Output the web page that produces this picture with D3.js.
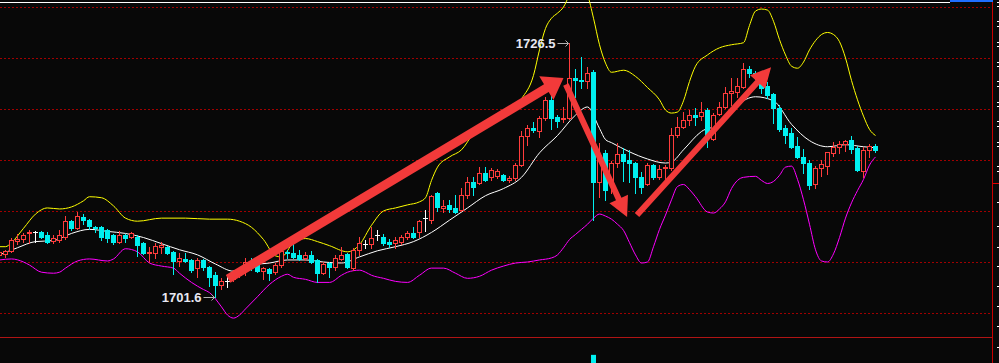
<!DOCTYPE html>
<html>
<head>
<meta charset="utf-8">
<script src="https://cdn.jsdelivr.net/npm/d3@7"></script>
<style>
  html, body { margin: 0; padding: 0; background: #080808; overflow: hidden; }
  svg { display: block; }
</style>
</head>
<body>
<div id="chart"></div>
<script>
// one bar per candle, left to right (price units)
const opens = [1705.7,1705.8,1706.1,1707.1,1707.3,1707.8,1707.9,1707.9,1707.6,1707.1,1707.2,1707.5,1709.0,1708.3,1709.4,1709.1,1708.4,1708.4,1708.1,1707.6,
  1707.0,1707.6,1707.5,1707.5,1706.9,1705.9,1705.9,1706.5,1706.5,1706.0,1705.1,1705.3,1705.2,1704.4,1705.2,1704.5,1703.7,1702.7,1703.1,1703.3,
  1703.7,1704.2,1705.1,1704.8,1704.1,1704.3,1704.0,1704.7,1706.0,1705.9,1705.7,1705.4,1705.7,1705.2,1703.9,1704.9,1704.5,1705.3,1705.8,1704.4,
  1706.2,1706.8,1706.8,1707.6,1707.5,1707.0,1706.9,1707.0,1707.5,1707.8,1707.9,1709.3,1709.1,1711.8,1710.3,1710.6,1710.3,1710.1,1711.6,1712.8,
  1712.7,1713.7,1713.3,1713.4,1713.5,1713.0,1713.2,1714.5,1717.4,1718.1,1717.8,1719.1,1720.9,1719.2,1719.0,1719.1,1723.0,1722.8,1722.7,1723.6,
  1712.8,1715.7,1712.8,1714.7,1715.6,1715.0,1714.7,1713.3,1712.6,1714.5,1713.3,1714.2,1714.2,1717.5,1718.2,1718.9,1719.4,1719.3,1719.9,1717.1,
  1719.5,1720.2,1721.6,1721.7,1722.2,1723.9,1723.5,1722.9,1722.3,1721.5,1720.1,1718.1,1717.6,1716.4,1715.3,1714.7,1712.6,1714.2,1714.4,1715.7,
  1716.3,1716.6,1717.0,1716.2,1713.9,1716.0,1716.4];
const highs = [1706.2,1706.2,1707.4,1707.7,1707.8,1708.1,1708.0,1708.0,1707.9,1707.6,1708.1,1709.5,1709.1,1709.9,1709.7,1709.2,1708.5,1708.5,1708.2,1707.7,
  1708.0,1707.7,1707.9,1707.6,1707.0,1706.5,1706.9,1707.0,1706.6,1706.1,1705.9,1705.9,1705.3,1705.4,1705.3,1704.6,1704.0,1703.4,1703.5,1704.2,
  1704.5,1705.4,1705.4,1704.9,1704.5,1704.4,1704.9,1706.2,1706.2,1707.0,1706.2,1706.0,1706.1,1705.3,1705.0,1705.0,1705.7,1706.5,1705.9,1706.4,
  1707.5,1707.2,1708.4,1708.1,1707.7,1707.3,1707.5,1707.6,1708.0,1708.4,1709.1,1710.1,1711.6,1711.9,1711.1,1711.1,1711.6,1712.3,1713.3,1713.3,
  1714.3,1714.3,1714.2,1714.1,1713.6,1713.4,1714.7,1717.8,1718.4,1718.7,1719.3,1721.2,1721.6,1719.4,1720.2,1726.5,1723.9,1725.1,1724.1,1723.8,
  1716.7,1716.0,1714.9,1716.7,1716.2,1716.0,1714.8,1713.8,1714.7,1714.6,1714.5,1714.5,1718.1,1719.2,1719.7,1719.9,1720.1,1720.7,1720.1,1719.6,
  1720.7,1722.2,1723.0,1723.0,1724.5,1724.2,1723.7,1723.1,1722.6,1721.6,1720.4,1718.4,1718.1,1717.3,1716.1,1715.0,1714.4,1715.0,1715.8,1716.8,
  1716.9,1717.0,1717.4,1716.4,1716.3,1716.6,1716.6];
const lows = [1705.5,1705.5,1706.0,1706.8,1707.0,1706.9,1707.0,1707.4,1706.9,1706.9,1707.0,1707.3,1708.1,1708.2,1708.7,1708.2,1707.9,1707.2,1707.0,1706.8,
  1706.9,1707.0,1707.4,1705.6,1705.8,1705.0,1705.4,1705.9,1705.8,1703.8,1704.6,1705.0,1704.0,1703.5,1704.2,1702.6,1701.6,1702.4,1702.5,1703.1,
  1703.5,1703.7,1704.2,1704.0,1703.3,1703.2,1703.8,1704.5,1705.4,1705.4,1705.2,1705.2,1704.9,1703.0,1703.8,1703.5,1704.2,1705.2,1704.4,1704.2,
  1705.7,1706.4,1706.4,1707.2,1706.7,1706.5,1706.4,1706.8,1707.3,1707.4,1707.5,1708.0,1708.8,1710.0,1709.9,1709.9,1709.8,1710.0,1711.3,1711.6,
  1712.6,1712.9,1713.0,1713.2,1712.9,1712.8,1713.0,1714.4,1716.5,1717.7,1717.3,1718.9,1718.0,1718.2,1718.7,1719.0,1721.2,1722.1,1722.1,1709.1,
  1711.4,1711.1,1711.8,1714.3,1712.9,1712.8,1711.8,1711.8,1712.5,1713.1,1713.1,1713.1,1714.0,1717.3,1718.1,1718.4,1718.4,1718.9,1716.3,1717.0,
  1719.4,1720.1,1720.4,1721.2,1722.1,1723.1,1722.9,1721.6,1721.1,1718.6,1717.8,1716.7,1716.2,1715.2,1713.7,1712.2,1712.3,1713.4,1713.6,1715.4,
  1715.7,1715.9,1715.7,1713.9,1713.3,1715.3,1715.8];
const closes = [1706.0,1706.1,1707.2,1707.3,1707.6,1707.9,1707.9,1707.5,1707.0,1707.4,1707.6,1709.0,1708.3,1709.5,1709.1,1708.5,1708.3,1707.5,1707.4,1707.0,
  1707.6,1707.4,1707.8,1706.7,1705.9,1706.0,1706.6,1706.7,1705.9,1705.1,1705.4,1705.1,1704.2,1705.2,1704.5,1703.5,1702.7,1703.1,1703.1,1703.9,
  1704.2,1705.0,1704.7,1704.1,1704.4,1703.9,1704.7,1706.1,1705.9,1705.5,1705.3,1705.7,1705.0,1703.9,1704.8,1704.5,1705.4,1705.7,1704.5,1706.2,
  1706.9,1706.8,1707.4,1707.6,1706.9,1706.8,1707.2,1707.5,1707.8,1707.5,1709.0,1709.3,1711.5,1710.4,1710.5,1710.2,1709.9,1711.6,1712.8,1712.4,
  1713.7,1713.0,1714.0,1713.9,1713.0,1713.2,1714.5,1717.4,1718.1,1717.9,1719.1,1720.9,1719.1,1718.8,1719.1,1723.0,1722.8,1722.7,1723.5,1712.8,
  1715.5,1712.1,1714.7,1715.6,1714.9,1714.7,1713.3,1712.4,1714.5,1713.3,1714.1,1714.3,1717.5,1718.2,1718.9,1719.4,1719.2,1719.7,1717.3,1719.4,
  1720.2,1721.6,1721.8,1722.3,1723.9,1723.5,1723.1,1722.1,1721.4,1720.1,1718.0,1717.5,1716.3,1715.3,1714.7,1712.5,1714.2,1714.6,1715.8,1716.3,
  1716.6,1716.9,1716.1,1714.0,1716.0,1716.4,1716.0];

// bollinger bands, read at key bars
const midIdx = [0,3,6,9,12,15,18,21,24,27,30,33,36,39,42,45,48,51,54,57,60,63,66,69,72,75,78,81,84,87,90,93,96,98,100,101,102,105,108,111,112,114,117,120,123,126,129,132,135,138,141,144,146];
const midVal = [1705.7,1706.4,1707.0,1707.1,1707.8,1708.2,1708.0,1707.8,1707.4,1706.8,1706.2,1705.7,1704.8,1704.1,1704.7,1704.9,1705.2,1705.2,1705.0,1704.9,
  1705.5,1706.1,1706.5,1707.0,1707.9,1709.1,1710.3,1711.5,1712.2,1713.3,1715.7,1717.4,1719.4,1720.2,1718.1,1717.0,1716.7,1715.8,1715.1,1714.7,
  1714.8,1716.0,1717.8,1718.5,1720.4,1721.2,1720.8,1718.5,1716.9,1716.3,1716.5,1716.3,1716.2];

const upIdx = [0,1,2,4,6,8,10,12,14,15,17,19,21,23,27,31,35,38,40,42,44,46,47,49,51,53,55,58,60,62,64,66,68,70,71,72,73,75,77,79,80,83,85,87,89,90,91,92,93,94,95,96,97,98,99,
  100,101,102,104,106,108,110,111,112,113,114,115,116,118,120,122,124,125,126,127,128,129,130,131,132,133,134,135,136,137,138,139,140,141,142,143,144,145,146];
const upVal = [1706.5,1706.5,1706.9,1708.3,1709.7,1710.3,1710.2,1710.4,1711.0,1711.4,1711.3,1710.5,1709.3,1709.0,1709.3,1709.3,1709.2,1709.2,1709.0,1708.4,
  1707.2,1705.6,1705.5,1706.9,1707.3,1707.0,1706.6,1706.0,1706.7,1708.6,1710.0,1710.3,1710.6,1710.9,1711.3,1713.0,1714.3,1715.3,1716.0,1717.6,
  1718.2,1719.1,1719.6,1721.0,1723.3,1725.8,1727.9,1728.9,1729.4,1730.0,1731.2,1732.2,1732.2,1731.2,1728.9,
  1726.3,1724.5,1723.6,1723.8,1723.2,1722.1,1720.9,1719.9,1719.6,1719.7,1720.8,1722.7,1724.2,1725.3,1726.0,1726.3,1726.5,1728.2,1729.6,1729.8,
  1729.7,1728.6,1726.8,1725.3,1724.2,1724.0,1724.6,1725.8,1726.7,1727.3,1727.5,1727.3,1726.6,1725.0,1722.8,1720.9,1719.3,1718.0,1717.4];

const lowIdx = [0,2,4,5,7,9,10,11,13,15,18,19,21,23,25,27,29,30,32,34,35,37,38,39,40,41,43,45,47,48,49,51,53,55,57,58,60,61,62,64,66,68,70,72,74,76,78,80,82,84,86,88,90,92,93,94,95,96,97,98,99,
  100,101,102,103,104,105,106,107,108,109,110,111,112,113,114,115,116,118,119,120,121,122,123,124,126,127,128,129,130,131,132,133,134,135,136,137,138,139,140,141,142,143,144,145,146];
const lowVal = [1705.2,1705.3,1705.0,1704.7,1704.0,1703.9,1704.0,1704.4,1705.1,1705.3,1705.1,1705.3,1706.3,1706.0,1704.9,1704.6,1704.4,1703.9,1703.0,1702.3,
  1702.0,1700.6,1699.8,1699.5,1699.8,1700.4,1701.6,1702.8,1703.6,1703.8,1703.5,1703.3,1703.0,1703.0,1703.7,1704.0,1704.2,1704.0,1703.7,1703.4,
  1703.1,1703.0,1703.7,1704.4,1704.4,1703.9,1703.4,1703.6,1704.2,1704.6,1704.9,1705.0,1705.2,1705.4,1705.7,1706.4,1707.2,1707.7,1708.2,1708.7,1709.3,
  1709.7,1709.5,1709.2,1708.7,1708.1,1706.9,1705.7,1704.9,1705.0,1706.5,1708.2,1709.6,1711.1,1712.4,1712.6,1712.1,1711.4,1709.9,1709.8,1710.2,
  1710.9,1712.2,1713.0,1713.3,1713.4,1713.0,1712.7,1712.9,1713.5,1714.3,1714.4,1713.1,1711.1,1708.7,1706.2,1705.1,1705.0,1705.8,1707.4,1709.3,
  1710.8,1712.0,1713.1,1714.5,1715.3];

// dotted price levels, right-edge tick marks, last-price marker
const gridLevels = [1700, 1705, 1710, 1715, 1720, 1725, 1730];
const rightTicks = [1730.5,1730.1,1728.6,1728.1,1726.6,1726.2,1724.6,1724.2,1722.7,1722.3,1720.7,1720.3,1718.8,1718.3,1716.8,1716.4,1714.4,1713.9,
  1710.9,1708.5,1706.5,1704.6,1702.6,1700.7,1698.7,1696.7];
const markerPrice = 1712.7;

// hand-drawn trend arrows: [bar, price] start and end
const arrowFrom = [[38.1, 1703.35], [94.4, 1722.4], [106.25, 1709.6]];
const arrowTo = [[94.0, 1723.05], [104.6, 1709.4], [128.6, 1724.1]];
const arrowShaft = [9, 6, 6];

// extreme labels
const labelIdx = [95, 36];
const labelPrice = [1726.5, 1701.6];

// visible volume bar
const volIdx = [99];
const volVal = [4300];

const W = 999, H = 363;
const UP = "#ff3c3c", DOWN = "#00f0f0", GRID = "#a00000";

const svg = d3.select("#chart").append("svg")
  .attr("width", W)
  .attr("height", H);

svg.append("rect").attr("width", W).attr("height", H).attr("fill", "#080808");

const x = d3.scaleLinear().domain([0, 146]).range([-0.5, 875.5]);
const y = d3.scaleLinear().domain([1700, 1730]).range([313, 7]);
const yVol = d3.scaleLinear().domain([0, 6000]).range([400, 337]);

// grid
svg.append("g").selectAll("line")
  .data(gridLevels)
  .join("line")
  .attr("x1", 0).attr("x2", 991)
  .attr("y1", d => Math.round(y(d)) + 0.5)
  .attr("y2", d => Math.round(y(d)) + 0.5)
  .attr("stroke", GRID)
  .attr("stroke-dasharray", "2,2");

// frame
svg.append("line").attr("x1", 0).attr("x2", 992).attr("y1", 337.5).attr("y2", 337.5)
  .attr("stroke", "#b01414");
svg.append("line").attr("x1", 992.5).attr("x2", 992.5).attr("y1", 2).attr("y2", H)
  .attr("stroke", "#c80000");
svg.append("line").attr("x1", 0).attr("x2", 950).attr("y1", 2.5).attr("y2", 2.5)
  .attr("stroke", "#ffffff");
svg.append("rect").attr("x", 950).attr("y", 0).attr("width", 43).attr("height", 2)
  .attr("fill", "#1f6fff");

// right tick marks (labels are off screen)
svg.append("g")
  .attr("transform", "translate(997,0)")
  .call(d3.axisRight(y).tickValues(rightTicks).tickSize(2).tickFormat(""))
  .call(g => g.select(".domain").remove())
  .call(g => g.selectAll("line").attr("stroke", "#ffffff").attr("shape-rendering", "crispEdges"));
svg.append("line").attr("x1", 993).attr("x2", 999)
  .attr("y1", Math.round(y(markerPrice)) + 0.5).attr("y2", Math.round(y(markerPrice)) + 0.5)
  .attr("stroke", "#e00000");

// bands
const band = (idx, vals) => idx.map((d, k) => [d, vals[k]]);
const line = d3.line()
  .x(d => x(d[0]))
  .y(d => y(d[1]))
  .curve(d3.curveMonotoneX);

svg.append("path").datum(band(upIdx, upVal)).attr("d", line)
  .attr("fill", "none").attr("stroke", "#ffff00").attr("stroke-width", 1);
svg.append("path").datum(band(lowIdx, lowVal)).attr("d", line)
  .attr("fill", "none").attr("stroke", "#ff00ff").attr("stroke-width", 1);
svg.append("path").datum(band(midIdx, midVal)).attr("d", line)
  .attr("fill", "none").attr("stroke", "#ffffff").attr("stroke-width", 1);

// candles
const candles = opens.map((o, i) => ({ i, o, h: highs[i], l: lows[i], c: closes[i] }));
const cg = svg.append("g").attr("shape-rendering", "crispEdges");

candles.forEach(d => {
  const cx = x(d.i);
  const left = cx - 2.5;
  const yH = Math.round(y(d.h)), yL = Math.round(y(d.l));
  const yTop = Math.round(y(Math.max(d.o, d.c)));
  const yBot = Math.round(y(Math.min(d.o, d.c)));
  if (d.c > d.o) {
    // hollow up candle
    if (yH < yTop) cg.append("line").attr("x1", cx).attr("x2", cx).attr("y1", yH).attr("y2", yTop).attr("stroke", UP);
    if (yL > yBot) cg.append("line").attr("x1", cx).attr("x2", cx).attr("y1", yBot + 1).attr("y2", yL + 1).attr("stroke", UP);
    if (yBot - yTop < 2) {
      cg.append("rect").attr("x", left).attr("y", yTop).attr("width", 5).attr("height", yBot - yTop + 1).attr("fill", UP);
    } else {
      cg.append("rect").attr("x", left + 0.5).attr("y", yTop + 0.5).attr("width", 4).attr("height", yBot - yTop)
        .attr("fill", "#080808").attr("stroke", UP);
    }
  } else if (d.c < d.o) {
    cg.append("line").attr("x1", cx).attr("x2", cx).attr("y1", yH).attr("y2", yL + 1).attr("stroke", DOWN);
    cg.append("rect").attr("x", left).attr("y", yTop).attr("width", 5).attr("height", Math.max(1, yBot - yTop + 1))
      .attr("fill", DOWN);
  } else {
    cg.append("line").attr("x1", cx).attr("x2", cx).attr("y1", yH).attr("y2", yL + 1).attr("stroke", "#ffffff");
    cg.append("rect").attr("x", left).attr("y", yTop).attr("width", 5).attr("height", 1).attr("fill", "#ffffff");
  }
});

// volume
svg.append("g").selectAll("rect")
  .data(volIdx)
  .join("rect")
  .attr("x", d => x(d) - 2.5)
  .attr("y", (d, k) => yVol(volVal[k]))
  .attr("width", 5)
  .attr("height", (d, k) => H - yVol(volVal[k]))
  .attr("fill", DOWN);

// arrows
arrowFrom.forEach((f, k) => {
  const x0 = x(f[0]), y0 = y(f[1]);
  const x1 = x(arrowTo[k][0]), y1 = y(arrowTo[k][1]);
  const len = Math.hypot(x1 - x0, y1 - y0);
  const ux = (x1 - x0) / len, uy = (y1 - y0) / len;
  const px = -uy, py = ux;
  const sw = arrowShaft[k] / 2, hw = arrowShaft[k] * 1.2 + 3, hl = 20;
  const bx = x1 - ux * hl, by = y1 - uy * hl;
  const pts = [
    [x0 + px * sw, y0 + py * sw],
    [bx + px * sw, by + py * sw],
    [bx + px * hw, by + py * hw],
    [x1, y1],
    [bx - px * hw, by - py * hw],
    [bx - px * sw, by - py * sw],
    [x0 - px * sw, y0 - py * sw]
  ];
  svg.append("polygon")
    .attr("points", pts.map(p => p.join(",")).join(" "))
    .attr("fill", "#f23a3a");
});

// high / low labels
labelIdx.forEach((d, k) => {
  const cx = x(d), cy = Math.round(y(labelPrice[k])) + 0.5;
  svg.append("text")
    .attr("x", cx - 14)
    .attr("y", cy)
    .attr("dy", "0.35em")
    .attr("text-anchor", "end")
    .style("font-family", "'Liberation Sans', Arial, sans-serif")
    .style("font-weight", "bold")
    .style("font-size", "13px")
    .style("fill", "#e8e8f2")
    .text(labelPrice[k].toFixed(1));
  svg.append("line").attr("x1", cx - 12).attr("x2", cx - 1).attr("y1", cy).attr("y2", cy)
    .attr("stroke", "#b4b4b4");
  svg.append("path")
    .attr("d", `M${cx - 4},${cy - 3} L${cx - 1},${cy} L${cx - 4},${cy + 3}`)
    .attr("fill", "none").attr("stroke", "#b4b4b4");
});
</script>
</body>
</html>
